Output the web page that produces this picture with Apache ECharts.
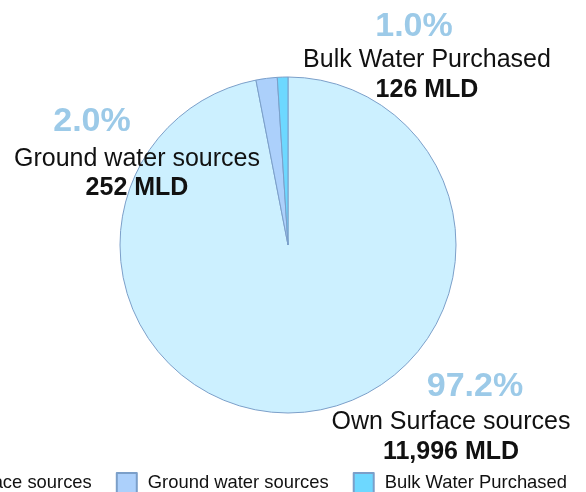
<!DOCTYPE html>
<html>
<head>
<meta charset="utf-8">
<style>
  html, body { margin: 0; padding: 0; background: #fff; }
  #main { width: 586px; height: 492px; }
</style>
<script src="https://cdn.jsdelivr.net/npm/echarts@6/dist/echarts.min.js"></script>
</head>
<body>
<div id="main"></div>
<script>
// 数据
var sourceNames = ['Own Surface sources', 'Ground water sources', 'Bulk Water Purchased'];
var sourceValues = [11996, 252, 126];
var pctLabels = ['97.2%', '2.0%', '1.0%'];
var sliceColors = ['#ccf0ff', '#acd0fb', '#6dd8ff'];

(function () {
  // 1. 实例化对象
  var myChart = echarts.init(document.querySelector('#main'))

  // 每个标签的位置 (中心 x, 顶部 y)、百分比偏移和行高
  var labelPos = [
    { x: 451, y: 365, pad: [0, 0, 0, 48], pctLh: 42.5, nameLh: 29.5 },
    { x: 137, y: 98, pad: [0, 90, 0, 0], pctLh: 47, nameLh: 28 },
    { x: 427, y: 8.5, pad: [0, 26, 0, 0], pctLh: 37, nameLh: 30 }
  ]

  var font = 'Liberation Sans, Arial, sans-serif'

  var data = sourceNames.map(function (name, i) {
    var lp = labelPos[i]
    return {
      name: name,
      value: sourceValues[i],
      itemStyle: { color: sliceColors[i] },
      label: {
        rich: {
          pct: {
            fontSize: 34,
            fontWeight: 'bold',
            color: '#9ccae8',
            lineHeight: lp.pctLh,
            padding: lp.pad,
            fontFamily: font
          },
          name: { fontSize: 25, color: '#111', lineHeight: lp.nameLh, fontFamily: font },
          val: { fontSize: 25, fontWeight: 'bold', color: '#111', lineHeight: 30, fontFamily: font }
        }
      }
    }
  })

  // 2. 指定配置项和数据
  var option = {
    animation: false,
    legend: {
      top: 467,
      right: 14,
      width: 900,
      itemWidth: 20,
      itemHeight: 20,
      itemGap: 24,
      icon: 'rect',
      textStyle: {
        fontFamily: font,
        fontSize: 18.4,
        color: '#111',
        padding: [0, 0, 0, 6]
      },
      data: sourceNames
    },
    series: [
      {
        name: 'Water sources',
        type: 'pie',
        center: [288, 245],
        radius: [0, 168],
        startAngle: 90,
        clockwise: true,
        itemStyle: {
          borderColor: '#7b9fc9',
          borderWidth: 1
        },
        label: {
          show: true,
          position: 'outside',
          alignTo: 'none',
          overflow: 'none',
          width: 400,
          fontFamily: font,
          align: 'center',
          formatter: function (p) {
            return '{pct|' + pctLabels[p.dataIndex] + '}\n{name|' + p.name + '}\n{val|' + p.value.toLocaleString('en-US') + ' MLD}'
          }
        },
        labelLine: { show: false },
        labelLayout: function (params) {
          var p = labelPos[params.dataIndex]
          return { x: p.x, y: p.y, align: 'center', verticalAlign: 'top' }
        },
        emphasis: { disabled: true },
        data: data
      }
    ]
  }

  // 3. 配置项和数据给实例化对象
  myChart.setOption(option)
}());
</script>
</body>
</html>
